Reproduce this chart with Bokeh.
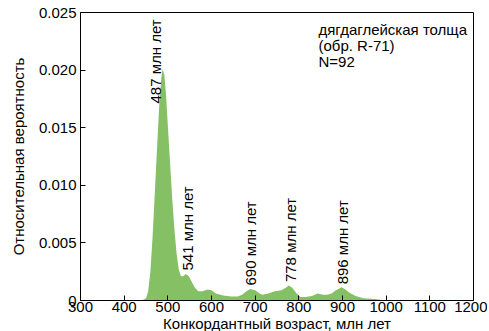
from bokeh.plotting import figure
from bokeh.models import Range1d, FixedTicker, Label
from bokeh.core.properties import value
from bokeh.embed import file_html
from bokeh.resources import INLINE

# Kernel-density curve
ages = [300, 440, 450, 455, 460, 465, 470, 475, 480, 485, 488, 492, 496, 500, 505, 510, 515,
        520, 525, 530, 535, 541, 548, 555, 562, 570, 580, 591, 600, 610, 627, 645, 660, 670,
        680, 689, 700, 710, 717, 730, 745, 760, 770, 777, 785, 795, 804, 815, 830, 843, 855,
        865, 875, 885, 898, 905, 915, 930, 948, 965, 980, 994, 1200]
density = [0, 0, 0.0002, 0.0008, 0.0025, 0.0055, 0.0092, 0.0130, 0.0167, 0.0193, 0.0201,
           0.0196, 0.0178, 0.0152, 0.0120, 0.0089, 0.0062, 0.0041, 0.0027, 0.0021, 0.0021,
           0.0023, 0.0021, 0.0016, 0.0011, 0.0008, 0.0008, 0.00095, 0.0009, 0.0006, 0.00043,
           0.00035, 0.00035, 0.0005, 0.0008, 0.0010, 0.0009, 0.0006, 0.0005, 0.0006, 0.0008,
           0.0009, 0.0011, 0.0013, 0.0011, 0.0006, 0.0003, 0.0003, 0.0004, 0.0006, 0.0005,
           0.0005, 0.0006, 0.0009, 0.00116, 0.0010, 0.0007, 0.0004, 0.0002, 0.00015, 0.0001,
           0, 0]

peak_x = [471, 544, 689, 780, 899]
peak_y = [0.0171, 0.0026, 0.0013, 0.0016, 0.0014]
peak_text = ["487 млн лет", "541 млн лет", "690 млн лет", "778 млн лет", "896 млн лет"]

note_lines = ["дягдаглейская толща", "(обр. R-71)", "N=92"]
note_x = 845
note_y = [0.02352, 0.02213, 0.02075]

x_ticks = [300, 400, 500, 600, 700, 800, 900, 1000, 1100, 1200]
y_ticks = [0, 0.005, 0.010, 0.015, 0.020, 0.025]
y_tick_labels = ["0", "0.005", "0.010", "0.015", "0.020", "0.025"]

FONT = "Liberation Sans"

p = figure(output_backend="svg", toolbar_location=None,
           frame_width=393, frame_height=288,
           min_border_left=80, min_border_right=14, min_border_top=12, min_border_bottom=30,
           x_range=Range1d(300, 1200), y_range=Range1d(0, 0.025))

p.varea(x=ages, y1=0, y2=density, fill_color="#86c064", fill_alpha=1.0)

for px_, py_, t in zip(peak_x, peak_y, peak_text):
    p.add_layout(Label(x=px_, y=py_, text=t, angle=90, angle_units="deg",
                       text_align="left", text_baseline="middle", text_font=FONT,
                       text_font_size="15px", text_color="black"))

for ny, t in zip(note_y, note_lines):
    p.add_layout(Label(x=note_x, y=ny, text=t, text_align="left", text_baseline="middle",
                       text_font=FONT, text_font_size="15px", text_color="black"))

p.grid.visible = False
p.outline_line_color = "black"
p.outline_line_width = 1
p.background_fill_color = "white"
p.border_fill_color = "white"

for ax in (p.xaxis[0], p.yaxis[0]):
    ax.major_tick_in = 5
    ax.major_tick_out = 0
    ax.minor_tick_line_color = None
    ax.axis_line_color = "black"
    ax.major_tick_line_color = "black"
    ax.major_label_text_font = FONT
    ax.major_label_text_font_size = "15px"
    ax.major_label_text_color = "black"
    ax.axis_label_text_font = FONT
    ax.axis_label_text_font_size = "15px"
    ax.axis_label_text_font_style = "normal"
    ax.axis_label_text_color = "black"
    ax.axis_label_standoff = 0
    ax.major_label_standoff = 1

p.yaxis.axis_label_standoff = 9
p.yaxis.major_label_standoff = 4

p.xaxis.ticker = FixedTicker(ticks=x_ticks)
p.yaxis.ticker = FixedTicker(ticks=y_ticks)
p.yaxis.major_label_overrides = {t: l for t, l in zip(y_ticks, y_tick_labels)}
p.xaxis.axis_label = "Конкордантный возраст, млн лет"
p.yaxis.axis_label = "Относительная вероятность"

open("out.html", "w").write(file_html(p, INLINE))
